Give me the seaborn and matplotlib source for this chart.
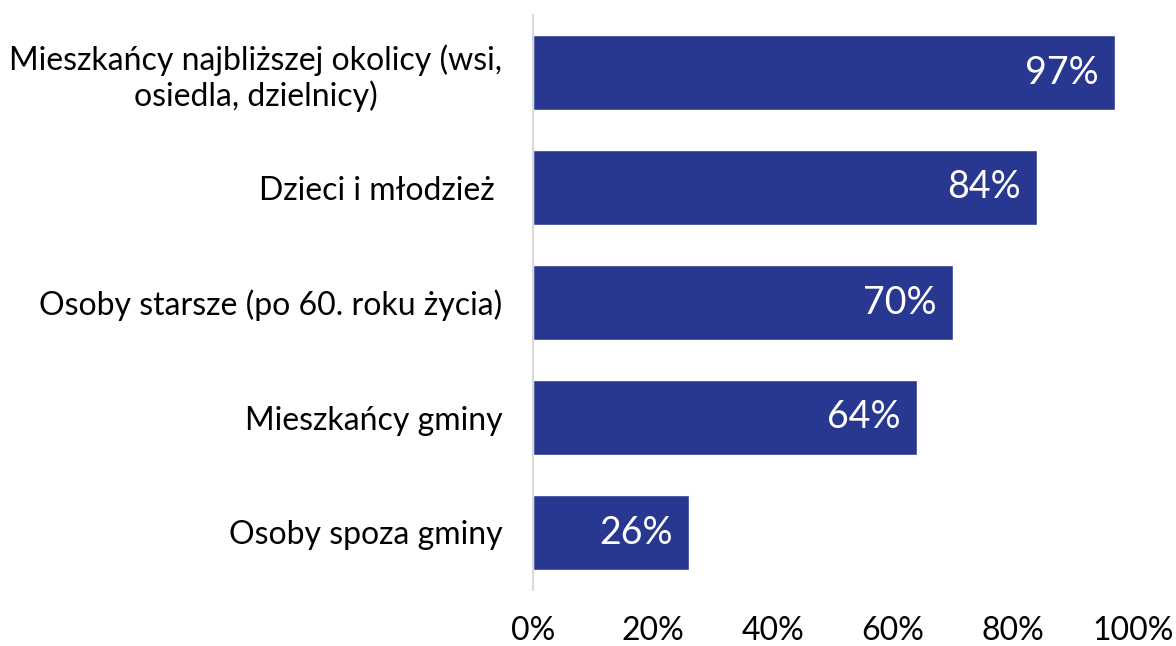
import matplotlib
matplotlib.use("Agg")
import matplotlib.pyplot as plt
import seaborn as sns
import pandas as pd

# Data
categories = [
    "Mieszkańcy najbliższej okolicy (wsi,\nosiedla, dzielnicy)",
    "Dzieci i młodzież ",
    "Osoby starsze (po 60. roku życia)",
    "Mieszkańcy gminy",
    "Osoby spoza gminy",
]
values = [0.97, 0.84, 0.70, 0.64, 0.26]
value_labels = ["97%", "84%", "70%", "64%", "26%"]
x_ticks = [0, 0.2, 0.4, 0.6, 0.8, 1.0]
x_tick_labels = ["0%", "20%", "40%", "60%", "80%", "100%"]

bar_color = "#283891"

sns.set_theme(style="white")
plt.rcParams["font.family"] = ["Lato", "DejaVu Sans"]

df = pd.DataFrame({"grupa": categories, "udzial": values})

fig = plt.figure(figsize=(11.76, 6.46), dpi=100)
ax = fig.add_axes([533 / 1176, 1 - 590 / 646, 600 / 1176, 575 / 646])

sns.barplot(data=df, y="grupa", x="udzial", orient="h", color=bar_color,
            width=0.66, saturation=1, ax=ax)

# value labels inside bars
for i, (v, lab) in enumerate(zip(values, value_labels)):
    ax.text(v - 0.027, i, lab, ha="right", va="center", color="white",
            fontsize=27)

ax.set_xlim(0, 1)
ax.set_ylim(4.5, -0.5)
ax.set_xticks(x_ticks)
ax.set_xticklabels(x_tick_labels, fontsize=23)
ax.set_xlabel("")
ax.set_ylabel("")
for lab in ax.get_yticklabels():
    lab.set_fontsize(23)
    lab.set_multialignment("center")
ax.tick_params(axis="x", length=0, pad=19, colors="black")
ax.tick_params(axis="y", length=0, pad=22, colors="black")

for side in ["top", "right", "bottom"]:
    ax.spines[side].set_visible(False)
ax.spines["left"].set_color("#d9d9d9")
ax.spines["left"].set_linewidth(1.5)

fig.savefig("out.png", dpi=100)
